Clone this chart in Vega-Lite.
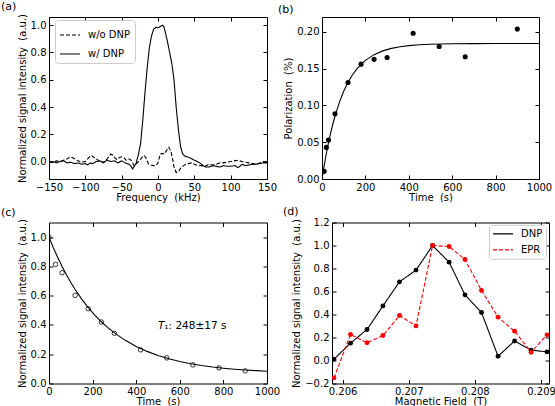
{
  "$schema": "https://vega.github.io/schema/vega-lite/v6.json",
  "background": "white",
  "padding": {"left": 0, "top": 0, "right": 0, "bottom": 0},
  "config": {
    "font": "DejaVu Sans",
    "view": {"stroke": "black", "strokeWidth": 1},
    "axis": {
      "grid": false, "domain": false, "ticks": true, "tickColor": "black", "tickSize": -4, "tickWidth": 1,
      "labelFont": "DejaVu Sans", "labelFontSize": 10, "labelColor": "black", "labelPadding": 7,
      "labelFlush": false, "labelOverlap": false,
      "titleFont": "DejaVu Sans", "titleFontSize": 10, "titleFontWeight": "normal", "titleColor": "black", "titlePadding": 3
    },
    "axisX": {"titlePadding": 0},
    "legend": {
      "labelFont": "DejaVu Sans", "labelFontSize": 10, "labelColor": "black",
      "strokeColor": "#cccccc", "fillColor": "white", "padding": 4, "cornerRadius": 3,
      "symbolType": "stroke", "symbolSize": 400, "symbolStrokeWidth": 1.2, "labelOffset": 7, "rowPadding": 3
    },
    "title": {"font": "DejaVu Sans", "fontSize": 11, "fontWeight": "normal", "color": "black", "anchor": "start", "frame": "group"}
  },
  "resolve": {"scale": {"color": "independent", "strokeDash": "independent"}, "legend": {"color": "independent", "strokeDash": "independent"}},
  "datasets": {
    "spec": [
      {"f":-150,"v":-0.005,"s":"w/ DNP"},{"f":-145,"v":0.0,"s":"w/ DNP"},{"f":-140,"v":-0.01,"s":"w/ DNP"},{"f":-135,"v":0.0,"s":"w/ DNP"},{"f":-130,"v":0.005,"s":"w/ DNP"},{"f":-125,"v":-0.01,"s":"w/ DNP"},{"f":-120,"v":-0.005,"s":"w/ DNP"},{"f":-115,"v":-0.015,"s":"w/ DNP"},{"f":-110,"v":-0.01,"s":"w/ DNP"},{"f":-105,"v":-0.02,"s":"w/ DNP"},{"f":-100,"v":-0.015,"s":"w/ DNP"},{"f":-97,"v":-0.025,"s":"w/ DNP"},{"f":-93,"v":-0.01,"s":"w/ DNP"},{"f":-90,"v":-0.015,"s":"w/ DNP"},{"f":-85,"v":0.0,"s":"w/ DNP"},{"f":-80,"v":0.005,"s":"w/ DNP"},{"f":-75,"v":-0.005,"s":"w/ DNP"},{"f":-70,"v":0.01,"s":"w/ DNP"},{"f":-65,"v":0.0,"s":"w/ DNP"},{"f":-60,"v":0.005,"s":"w/ DNP"},{"f":-55,"v":-0.01,"s":"w/ DNP"},{"f":-50,"v":0.005,"s":"w/ DNP"},{"f":-45,"v":-0.01,"s":"w/ DNP"},{"f":-40,"v":-0.02,"s":"w/ DNP"},{"f":-37,"v":-0.035,"s":"w/ DNP"},{"f":-35,"v":-0.054,"s":"w/ DNP"},{"f":-32,"v":-0.03,"s":"w/ DNP"},{"f":-30,"v":-0.01,"s":"w/ DNP"},{"f":-27,"v":0.05,"s":"w/ DNP"},{"f":-24,"v":0.13,"s":"w/ DNP"},{"f":-21,"v":0.3,"s":"w/ DNP"},{"f":-18,"v":0.5,"s":"w/ DNP"},{"f":-15,"v":0.68,"s":"w/ DNP"},{"f":-12,"v":0.83,"s":"w/ DNP"},{"f":-9,"v":0.92,"s":"w/ DNP"},{"f":-6,"v":0.97,"s":"w/ DNP"},{"f":-3,"v":0.985,"s":"w/ DNP"},{"f":0,"v":0.98,"s":"w/ DNP"},{"f":3,"v":0.99,"s":"w/ DNP"},{"f":6,"v":1.0,"s":"w/ DNP"},{"f":8,"v":0.99,"s":"w/ DNP"},{"f":10,"v":0.95,"s":"w/ DNP"},{"f":13,"v":0.88,"s":"w/ DNP"},{"f":16,"v":0.8,"s":"w/ DNP"},{"f":19,"v":0.72,"s":"w/ DNP"},{"f":22,"v":0.6,"s":"w/ DNP"},{"f":25,"v":0.4,"s":"w/ DNP"},{"f":28,"v":0.24,"s":"w/ DNP"},{"f":31,"v":0.11,"s":"w/ DNP"},{"f":34,"v":0.055,"s":"w/ DNP"},{"f":37,"v":0.04,"s":"w/ DNP"},{"f":40,"v":0.035,"s":"w/ DNP"},{"f":45,"v":0.025,"s":"w/ DNP"},{"f":50,"v":0.01,"s":"w/ DNP"},{"f":56,"v":-0.005,"s":"w/ DNP"},{"f":60,"v":-0.02,"s":"w/ DNP"},{"f":65,"v":-0.04,"s":"w/ DNP"},{"f":70,"v":-0.04,"s":"w/ DNP"},{"f":75,"v":-0.03,"s":"w/ DNP"},{"f":80,"v":-0.035,"s":"w/ DNP"},{"f":85,"v":-0.04,"s":"w/ DNP"},{"f":90,"v":-0.03,"s":"w/ DNP"},{"f":95,"v":-0.035,"s":"w/ DNP"},{"f":100,"v":-0.035,"s":"w/ DNP"},{"f":106,"v":-0.03,"s":"w/ DNP"},{"f":110,"v":-0.045,"s":"w/ DNP"},{"f":116,"v":-0.02,"s":"w/ DNP"},{"f":120,"v":-0.03,"s":"w/ DNP"},{"f":125,"v":-0.025,"s":"w/ DNP"},{"f":130,"v":-0.02,"s":"w/ DNP"},{"f":135,"v":-0.02,"s":"w/ DNP"},{"f":140,"v":-0.015,"s":"w/ DNP"},{"f":145,"v":-0.01,"s":"w/ DNP"},{"f":150,"v":-0.01,"s":"w/ DNP"},
      {"f":-150,"v":0.0,"s":"w/o DNP"},{"f":-145,"v":-0.005,"s":"w/o DNP"},{"f":-140,"v":0.005,"s":"w/o DNP"},{"f":-135,"v":0.0,"s":"w/o DNP"},{"f":-130,"v":0.01,"s":"w/o DNP"},{"f":-125,"v":0.02,"s":"w/o DNP"},{"f":-120,"v":0.035,"s":"w/o DNP"},{"f":-115,"v":0.02,"s":"w/o DNP"},{"f":-110,"v":0.005,"s":"w/o DNP"},{"f":-105,"v":-0.005,"s":"w/o DNP"},{"f":-100,"v":0.0,"s":"w/o DNP"},{"f":-95,"v":0.03,"s":"w/o DNP"},{"f":-92,"v":0.045,"s":"w/o DNP"},{"f":-88,"v":0.03,"s":"w/o DNP"},{"f":-85,"v":0.02,"s":"w/o DNP"},{"f":-80,"v":0.0,"s":"w/o DNP"},{"f":-75,"v":-0.01,"s":"w/o DNP"},{"f":-70,"v":0.02,"s":"w/o DNP"},{"f":-65,"v":0.055,"s":"w/o DNP"},{"f":-62,"v":0.045,"s":"w/o DNP"},{"f":-58,"v":0.02,"s":"w/o DNP"},{"f":-56,"v":0.015,"s":"w/o DNP"},{"f":-53,"v":0.03,"s":"w/o DNP"},{"f":-50,"v":0.035,"s":"w/o DNP"},{"f":-47,"v":0.03,"s":"w/o DNP"},{"f":-44,"v":0.01,"s":"w/o DNP"},{"f":-40,"v":0.02,"s":"w/o DNP"},{"f":-36,"v":0.005,"s":"w/o DNP"},{"f":-33,"v":-0.03,"s":"w/o DNP"},{"f":-30,"v":-0.02,"s":"w/o DNP"},{"f":-26,"v":0.005,"s":"w/o DNP"},{"f":-22,"v":0.03,"s":"w/o DNP"},{"f":-19,"v":0.045,"s":"w/o DNP"},{"f":-16,"v":0.02,"s":"w/o DNP"},{"f":-13,"v":-0.02,"s":"w/o DNP"},{"f":-10,"v":-0.025,"s":"w/o DNP"},{"f":-6,"v":-0.03,"s":"w/o DNP"},{"f":-3,"v":-0.03,"s":"w/o DNP"},{"f":0,"v":-0.01,"s":"w/o DNP"},{"f":3,"v":0.055,"s":"w/o DNP"},{"f":6,"v":0.06,"s":"w/o DNP"},{"f":9,"v":0.055,"s":"w/o DNP"},{"f":12,"v":0.085,"s":"w/o DNP"},{"f":15,"v":0.105,"s":"w/o DNP"},{"f":18,"v":0.07,"s":"w/o DNP"},{"f":20,"v":0.02,"s":"w/o DNP"},{"f":22,"v":-0.04,"s":"w/o DNP"},{"f":25,"v":-0.08,"s":"w/o DNP"},{"f":28,"v":-0.075,"s":"w/o DNP"},{"f":31,"v":-0.05,"s":"w/o DNP"},{"f":34,"v":-0.035,"s":"w/o DNP"},{"f":38,"v":-0.02,"s":"w/o DNP"},{"f":42,"v":-0.015,"s":"w/o DNP"},{"f":46,"v":-0.01,"s":"w/o DNP"},{"f":50,"v":-0.02,"s":"w/o DNP"},{"f":55,"v":-0.03,"s":"w/o DNP"},{"f":60,"v":-0.03,"s":"w/o DNP"},{"f":65,"v":-0.035,"s":"w/o DNP"},{"f":70,"v":-0.02,"s":"w/o DNP"},{"f":75,"v":-0.025,"s":"w/o DNP"},{"f":80,"v":-0.02,"s":"w/o DNP"},{"f":85,"v":-0.01,"s":"w/o DNP"},{"f":90,"v":-0.01,"s":"w/o DNP"},{"f":95,"v":-0.005,"s":"w/o DNP"},{"f":100,"v":0.0,"s":"w/o DNP"},{"f":105,"v":0.005,"s":"w/o DNP"},{"f":110,"v":0.01,"s":"w/o DNP"},{"f":115,"v":0.0,"s":"w/o DNP"},{"f":120,"v":-0.005,"s":"w/o DNP"},{"f":125,"v":-0.01,"s":"w/o DNP"},{"f":130,"v":-0.015,"s":"w/o DNP"},{"f":135,"v":-0.02,"s":"w/o DNP"},{"f":140,"v":-0.01,"s":"w/o DNP"},{"f":145,"v":0.0,"s":"w/o DNP"},{"f":150,"v":0.0,"s":"w/o DNP"}
    ],
    "pol": [
      {"t":10,"p":0.0104},{"t":20,"p":0.0429},{"t":30,"p":0.053},{"t":60,"p":0.0885},{"t":120,"p":0.131},{"t":180,"p":0.156},{"t":240,"p":0.1625},{"t":300,"p":0.165},{"t":420,"p":0.198},{"t":540,"p":0.18},{"t":660,"p":0.166},{"t":900,"p":0.2036}
    ],
    "polfit": [
      {"t":0,"p":0},{"t":10,"p":0.0182},{"t":20,"p":0.0346},{"t":30,"p":0.0494},{"t":40,"p":0.0627},{"t":50,"p":0.0747},{"t":60,"p":0.0855},{"t":80,"p":0.104},{"t":100,"p":0.1191},{"t":120,"p":0.1313},{"t":140,"p":0.1412},{"t":160,"p":0.1492},{"t":180,"p":0.1558},{"t":200,"p":0.1611},{"t":240,"p":0.1689},{"t":280,"p":0.174},{"t":320,"p":0.1774},{"t":360,"p":0.1797},{"t":400,"p":0.1811},{"t":450,"p":0.1823},{"t":500,"p":0.183},{"t":600,"p":0.1836},{"t":700,"p":0.1839},{"t":800,"p":0.184},{"t":900,"p":0.184},{"t":1000,"p":0.184}
    ],
    "t1": [
      {"t":0,"v":1.0},{"t":30,"v":0.814},{"t":60,"v":0.757},{"t":120,"v":0.602},{"t":180,"v":0.511},{"t":240,"v":0.42},{"t":300,"v":0.343},{"t":420,"v":0.23},{"t":540,"v":0.175},{"t":660,"v":0.127},{"t":780,"v":0.107},{"t":900,"v":0.086}
    ],
    "t1fit": [
      {"t":0,"v":1.0},{"t":20,"v":0.9277},{"t":40,"v":0.8611},{"t":60,"v":0.7996},{"t":80,"v":0.7428},{"t":100,"v":0.6906},{"t":120,"v":0.6423},{"t":150,"v":0.5768},{"t":180,"v":0.5187},{"t":210,"v":0.4674},{"t":240,"v":0.4218},{"t":270,"v":0.3815},{"t":300,"v":0.3457},{"t":350,"v":0.2948},{"t":400,"v":0.2533},{"t":450,"v":0.2194},{"t":500,"v":0.1917},{"t":550,"v":0.169},{"t":600,"v":0.1505},{"t":650,"v":0.1353},{"t":700,"v":0.123},{"t":750,"v":0.1128},{"t":800,"v":0.1045},{"t":850,"v":0.0978},{"t":900,"v":0.0922},{"t":950,"v":0.0877},{"t":1000,"v":0.0841}
    ],
    "field": [
      {"b":0.20587,"v":0.012,"s":"DNP"},{"b":0.20612,"v":0.151,"s":"DNP"},{"b":0.20637,"v":0.27,"s":"DNP"},{"b":0.20661,"v":0.475,"s":"DNP"},{"b":0.20686,"v":0.684,"s":"DNP"},{"b":0.20711,"v":0.786,"s":"DNP"},{"b":0.20736,"v":1.0,"s":"DNP"},{"b":0.20761,"v":0.855,"s":"DNP"},{"b":0.20785,"v":0.571,"s":"DNP"},{"b":0.2081,"v":0.417,"s":"DNP"},{"b":0.20835,"v":0.037,"s":"DNP"},{"b":0.2086,"v":0.17,"s":"DNP"},{"b":0.20885,"v":0.09,"s":"DNP"},{"b":0.20909,"v":0.075,"s":"DNP"},
      {"b":0.20587,"v":-0.151,"s":"EPR"},{"b":0.20612,"v":0.226,"s":"EPR"},{"b":0.20637,"v":0.154,"s":"EPR"},{"b":0.20661,"v":0.217,"s":"EPR"},{"b":0.20686,"v":0.391,"s":"EPR"},{"b":0.20711,"v":0.301,"s":"EPR"},{"b":0.20736,"v":1.0,"s":"EPR"},{"b":0.20761,"v":0.991,"s":"EPR"},{"b":0.20785,"v":0.878,"s":"EPR"},{"b":0.2081,"v":0.609,"s":"EPR"},{"b":0.20835,"v":0.377,"s":"EPR"},{"b":0.2086,"v":0.255,"s":"EPR"},{"b":0.20885,"v":0.072,"s":"EPR"},{"b":0.20909,"v":0.223,"s":"EPR"}
    ]
  },
  "spacing": 2.5,
  "vconcat": [
    {
      "bounds": "flush",
      "spacing": 55,
      "resolve": {"scale": {"color": "independent", "strokeDash": "independent"}, "legend": {"color": "independent", "strokeDash": "independent"}},
      "hconcat": [
        {
          "width": 218, "height": 162,
          "title": {"text": "(a)", "dx": -48, "offset": 1.5},
          "layer": [
            {
              "data": {"name": "spec"},
              "mark": {"type": "line", "color": "black", "strokeWidth": 1.1, "clip": true},
              "encoding": {
                "x": {"field": "f", "type": "quantitative", "scale": {"domain": [-150, 150], "nice": false, "zero": false},
                      "axis": {"orient": "bottom", "title": "Frequency\u00a0 (kHz)", "values": [-150, -100, -50, 0, 50, 100, 150]}},
                "y": {"field": "v", "type": "quantitative", "scale": {"domain": [-0.128, 1.06], "nice": false, "zero": false},
                      "axis": {"orient": "left", "title": "Normalized signal intensity\u00a0 (a.u.)", "values": [0, 0.2, 0.4, 0.6, 0.8, 1.0], "format": ".1f"}},
                "strokeDash": {"field": "s", "type": "nominal",
                               "scale": {"domain": ["w/o DNP", "w/ DNP"], "range": [[4, 2], [1, 0]]},
                               "legend": {"title": null, "orient": "none", "legendX": 6, "legendY": 3, "symbolStrokeColor": "black"}}
              }
            },
            {
              "data": {"name": "spec"},
              "mark": {"type": "point", "opacity": 0},
              "encoding": {
                "x": {"field": "f", "type": "quantitative", "scale": {"domain": [-150, 150], "nice": false, "zero": false},
                      "axis": {"orient": "top", "labels": false, "title": null, "values": [-150, -100, -50, 0, 50, 100, 150]}},
                "y": {"field": "v", "type": "quantitative", "scale": {"domain": [-0.128, 1.06], "nice": false, "zero": false},
                      "axis": {"orient": "right", "labels": false, "title": null, "values": [0, 0.2, 0.4, 0.6, 0.8, 1.0]}}
              }
            }
          ]
        },
        {
          "width": 217, "height": 162,
          "title": {"text": "(b)", "dx": -44, "offset": 1.5},
          "layer": [
            {
              "data": {"name": "pol"},
              "mark": {"type": "circle", "color": "black", "size": 26, "opacity": 1, "clip": true},
              "encoding": {
                "x": {"field": "t", "type": "quantitative", "scale": {"domain": [0, 1000], "nice": false},
                      "axis": {"orient": "bottom", "title": "Time\u00a0 (s)", "values": [0, 200, 400, 600, 800, 1000], "format": "d"}},
                "y": {"field": "p", "type": "quantitative", "scale": {"domain": [0, 0.22], "nice": false},
                      "axis": {"orient": "left", "title": "Polarization\u00a0 (%)", "values": [0, 0.05, 0.1, 0.15, 0.2], "format": ".2f"}}
              }
            },
            {
              "data": {"name": "polfit"},
              "mark": {"type": "line", "color": "black", "strokeWidth": 1.1, "clip": true},
              "encoding": {
                "x": {"field": "t", "type": "quantitative", "scale": {"domain": [0, 1000], "nice": false},
                      "axis": {"orient": "top", "labels": false, "title": null, "values": [0, 200, 400, 600, 800, 1000]}},
                "y": {"field": "p", "type": "quantitative", "scale": {"domain": [0, 0.22], "nice": false},
                      "axis": {"orient": "right", "labels": false, "title": null, "values": [0, 0.05, 0.1, 0.15, 0.2]}}
              }
            }
          ]
        }
      ]
    },
    {
      "bounds": "flush",
      "spacing": 65,
      "resolve": {"scale": {"color": "independent", "strokeDash": "independent"}, "legend": {"color": "independent", "strokeDash": "independent"}},
      "hconcat": [
        {
          "width": 218, "height": 161,
          "title": {"text": "(c)", "dx": -48, "offset": 0.5},
          "layer": [
            {
              "data": {"name": "t1"},
              "mark": {"type": "point", "color": "black", "size": 20, "filled": false, "strokeWidth": 0.8, "opacity": 1, "clip": true},
              "encoding": {
                "x": {"field": "t", "type": "quantitative", "scale": {"domain": [0, 1000], "nice": false},
                      "axis": {"orient": "bottom", "title": "Time\u00a0 (s)", "values": [0, 200, 400, 600, 800, 1000], "format": "d"}},
                "y": {"field": "v", "type": "quantitative", "scale": {"domain": [0, 1.1], "nice": false},
                      "axis": {"orient": "left", "title": "Normalized signal intensity\u00a0 (a.u.)", "values": [0, 0.2, 0.4, 0.6, 0.8, 1.0], "format": ".1f"}}
              }
            },
            {
              "data": {"name": "t1fit"},
              "mark": {"type": "line", "color": "black", "strokeWidth": 1.1, "clip": true},
              "encoding": {
                "x": {"field": "t", "type": "quantitative", "scale": {"domain": [0, 1000], "nice": false},
                      "axis": {"orient": "top", "labels": false, "title": null, "values": [0, 200, 400, 600, 800, 1000]}},
                "y": {"field": "v", "type": "quantitative", "scale": {"domain": [0, 1.1], "nice": false},
                      "axis": {"orient": "right", "labels": false, "title": null, "values": [0, 0.2, 0.4, 0.6, 0.8, 1.0]}}
              }
            },
            {
              "data": {"values": [{"t": 500, "v": 0.393, "label": "T"}]},
              "mark": {"type": "text", "align": "left", "baseline": "middle", "fontSize": 10.5, "fontStyle": "italic", "color": "black"},
              "encoding": {"x": {"field": "t", "type": "quantitative", "axis": null}, "y": {"field": "v", "type": "quantitative", "axis": null}, "text": {"field": "label"}}
            },
            {
              "data": {"values": [{"t": 529, "v": 0.393, "label": "₁: 248±17 s"}]},
              "mark": {"type": "text", "align": "left", "baseline": "middle", "fontSize": 10.5, "color": "black"},
              "encoding": {"x": {"field": "t", "type": "quantitative", "axis": null}, "y": {"field": "v", "type": "quantitative", "axis": null}, "text": {"field": "label"}}
            }
          ]
        },
        {
          "width": 217, "height": 161,
          "title": {"text": "(d)", "dx": -49, "offset": 0.5},
          "layer": [
            {
              "data": {"name": "field"},
              "mark": {"type": "line", "strokeWidth": 1.1, "clip": true},
              "encoding": {
                "x": {"field": "b", "type": "quantitative", "scale": {"domain": [0.20584, 0.20912], "nice": false, "zero": false},
                      "axis": {"orient": "bottom", "title": "Magnetic Field\u00a0 (T)", "values": [0.206, 0.207, 0.208, 0.209], "format": ".3f"}},
                "y": {"field": "v", "type": "quantitative", "scale": {"domain": [-0.2, 1.2], "nice": false, "zero": false},
                      "axis": {"orient": "left", "title": "Normalized signal intensity\u00a0 (a.u.)", "values": [-0.2, 0, 0.2, 0.4, 0.6, 0.8, 1.0, 1.2], "format": ".1f"}},
                "color": {"field": "s", "type": "nominal", "scale": {"domain": ["DNP", "EPR"], "range": ["black", "#ff0000"]},
                          "legend": {"title": null, "orient": "none", "legendX": 157, "legendY": 2.3, "clipHeight": 12, "rowPadding": 4, "padding": 3}},
                "strokeDash": {"field": "s", "type": "nominal", "scale": {"domain": ["DNP", "EPR"], "range": [[1, 0], [4, 2]]},
                               "legend": {"title": null, "orient": "none", "legendX": 157, "legendY": 2.3, "clipHeight": 12, "rowPadding": 4, "padding": 3}}
              }
            },
            {
              "data": {"name": "field"},
              "mark": {"type": "circle", "size": 24, "opacity": 1, "clip": true},
              "encoding": {
                "x": {"field": "b", "type": "quantitative", "scale": {"domain": [0.20584, 0.20912], "nice": false, "zero": false},
                      "axis": {"orient": "top", "labels": false, "title": null, "values": [0.206, 0.207, 0.208, 0.209]}},
                "y": {"field": "v", "type": "quantitative", "scale": {"domain": [-0.2, 1.2], "nice": false, "zero": false},
                      "axis": {"orient": "right", "labels": false, "title": null, "values": [-0.2, 0, 0.2, 0.4, 0.6, 0.8, 1.0, 1.2]}},
                "color": {"field": "s", "type": "nominal", "scale": {"domain": ["DNP", "EPR"], "range": ["black", "#ff0000"]}, "legend": null}
              }
            }
          ]
        }
      ]
    }
  ]
}
